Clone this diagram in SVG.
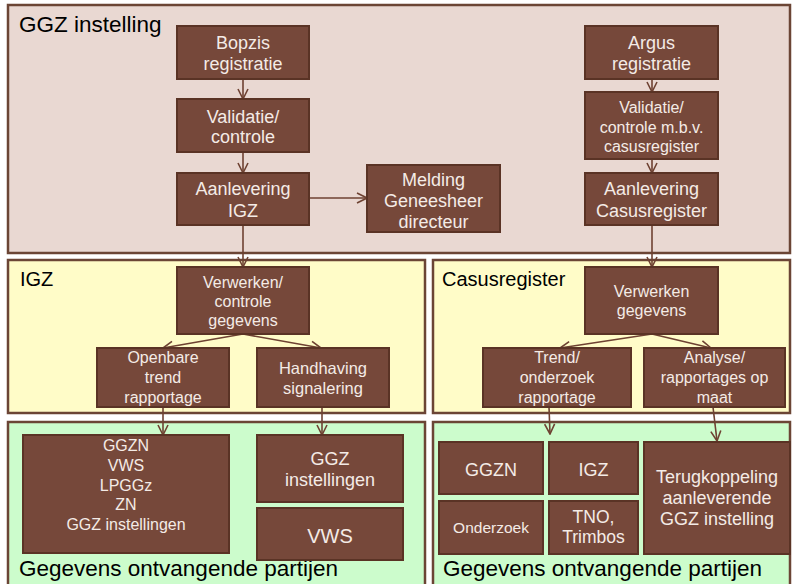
<svg xmlns="http://www.w3.org/2000/svg" width="792" height="584" viewBox="0 0 792 584">
<defs>
<style>
.panel{stroke:#6b4535;stroke-width:2.5}
.p1{fill:#e9d8d2}
.p2{fill:#fffcc8}
.p3{fill:#ccfccc}
.node rect{fill:#76483a;stroke:#5a3325;stroke-width:2}
.node text{fill:#f4ebe6;font-family:"Liberation Sans",Arial,sans-serif;text-anchor:middle}
.plabel{fill:#000;font-family:"Liberation Sans",Arial,sans-serif}
.conn{stroke:#6e4232;stroke-width:1.6;fill:none;marker-end:url(#ah)}
</style>
<marker id="ah" viewBox="0 0 12 12" refX="11" refY="6" markerWidth="12" markerHeight="12" markerUnits="userSpaceOnUse" orient="auto">
<path d="M1,1 L11,6 L1,11" fill="none" stroke="#6e4232" stroke-width="1.6"/>
</marker>
</defs>
<rect width="792" height="584" fill="#fff"/>
<g id="panels">
<rect class="panel p1" x="8" y="5" width="782" height="248"/>
<rect class="panel p2" x="8" y="260" width="417" height="153"/>
<rect class="panel p2" x="433" y="260" width="357" height="153"/>
<rect class="panel p3" x="8" y="422" width="417" height="170"/>
<rect class="panel p3" x="433" y="422" width="357" height="170"/>
<text class="plabel" x="19" y="32" font-size="22.5">GGZ instelling</text>
<text class="plabel" x="20" y="286" font-size="20">IGZ</text>
<text class="plabel" x="442" y="286" font-size="20">Casusregister</text>
<text class="plabel" x="19" y="576" font-size="22.5">Gegevens ontvangende partijen</text>
<text class="plabel" x="443" y="576" font-size="22.5">Gegevens ontvangende partijen</text>
</g>
<g id="connectors">
<line class="conn" x1="243" y1="79" x2="243" y2="99"/>
<line class="conn" x1="243" y1="152" x2="243" y2="173"/>
<line class="conn" x1="309" y1="198" x2="367" y2="198"/>
<line class="conn" x1="243" y1="225" x2="243" y2="267"/>
<line class="conn" x1="652" y1="79" x2="652" y2="92"/>
<line class="conn" x1="652" y1="159" x2="652" y2="173"/>
<line class="conn" x1="652" y1="225" x2="652" y2="267"/>
<line class="conn" x1="243" y1="334" x2="163" y2="348"/>
<line class="conn" x1="243" y1="334" x2="321" y2="348"/>
<line class="conn" x1="652" y1="334" x2="560" y2="348"/>
<line class="conn" x1="652" y1="334" x2="711" y2="348"/>
<line class="conn" x1="163" y1="407" x2="163" y2="435"/>
<line class="conn" x1="322" y1="407" x2="322" y2="435"/>
<line class="conn" x1="549" y1="407" x2="550" y2="434"/>
<line class="conn" x1="713" y1="407" x2="717" y2="441"/>
</g>
<g id="bopzis" class="node"><rect x="177" y="26" width="132" height="53"/><text font-size="18"><tspan x="243" y="49">Bopzis</tspan><tspan x="243" y="70">registratie</tspan></text></g>
<g id="validatie1" class="node"><rect x="177" y="99" width="132" height="53"/><text font-size="18"><tspan x="243" y="123">Validatie/</tspan><tspan x="243" y="143">controle</tspan></text></g>
<g id="aanlevering-igz" class="node"><rect x="177" y="173" width="132" height="52"/><text font-size="18"><tspan x="243" y="195">Aanlevering</tspan><tspan x="243" y="217">IGZ</tspan></text></g>
<g id="melding" class="node"><rect x="367" y="165" width="133" height="67"/><text font-size="18"><tspan x="433.5" y="186">Melding</tspan><tspan x="433.5" y="207">Geneesheer</tspan><tspan x="433.5" y="228">directeur</tspan></text></g>
<g id="argus" class="node"><rect x="585" y="26" width="133" height="53"/><text font-size="18"><tspan x="651.5" y="49">Argus</tspan><tspan x="651.5" y="70">registratie</tspan></text></g>
<g id="validatie2" class="node"><rect x="585" y="92" width="133" height="67"/><text font-size="16"><tspan x="651.5" y="113">Validatie/</tspan><tspan x="651.5" y="133">controle m.b.v.</tspan><tspan x="651.5" y="152">casusregister</tspan></text></g>
<g id="aanlevering-cas" class="node"><rect x="585" y="173" width="133" height="52"/><text font-size="18"><tspan x="651.5" y="195">Aanlevering</tspan><tspan x="651.5" y="217">Casusregister</tspan></text></g>
<g id="verwerken-igz" class="node"><rect x="177" y="267" width="132" height="67"/><text font-size="16"><tspan x="243" y="288">Verwerken/</tspan><tspan x="243" y="307">controle</tspan><tspan x="243" y="326">gegevens</tspan></text></g>
<g id="openbare" class="node"><rect x="97" y="348" width="132" height="59"/><text font-size="16"><tspan x="163" y="363">Openbare</tspan><tspan x="163" y="383">trend</tspan><tspan x="163" y="403">rapportage</tspan></text></g>
<g id="handhaving" class="node"><rect x="257" y="348" width="132" height="59"/><text font-size="16.5"><tspan x="323" y="374">Handhaving</tspan><tspan x="323" y="394">signalering</tspan></text></g>
<g id="verwerken-cas" class="node"><rect x="585" y="267" width="133" height="67"/><text font-size="16"><tspan x="651.5" y="297">Verwerken</tspan><tspan x="651.5" y="316">gegevens</tspan></text></g>
<g id="trend" class="node"><rect x="483" y="348" width="148" height="59"/><text font-size="16"><tspan x="557" y="363">Trend/</tspan><tspan x="557" y="383">onderzoek</tspan><tspan x="557" y="403">rapportage</tspan></text></g>
<g id="analyse" class="node"><rect x="644" y="348" width="141" height="59"/><text font-size="16"><tspan x="714.5" y="363">Analyse/</tspan><tspan x="714.5" y="383">rapportages  op</tspan><tspan x="714.5" y="403">maat</tspan></text></g>
<g id="ontvangers-igz" class="node"><rect x="23" y="435" width="206" height="118"/><text font-size="16"><tspan x="126" y="451">GGZN</tspan><tspan x="126" y="471">VWS</tspan><tspan x="126" y="491">LPGGz</tspan><tspan x="126" y="510">ZN</tspan><tspan x="126" y="530">GGZ instellingen</tspan></text></g>
<g id="ggz-instellingen" class="node"><rect x="257" y="435" width="146" height="67"/><text font-size="18"><tspan x="330" y="465">GGZ</tspan><tspan x="330" y="486">instellingen</tspan></text></g>
<g id="vws" class="node"><rect x="257" y="508" width="146" height="52"/><text font-size="20" x="330" y="543">VWS</text></g>
<g id="ggzn" class="node"><rect x="439" y="442" width="104" height="52"/><text font-size="18" x="491" y="476">GGZN</text></g>
<g id="igz" class="node"><rect x="549" y="442" width="89" height="52"/><text font-size="18" x="593.5" y="476">IGZ</text></g>
<g id="onderzoek" class="node"><rect x="439" y="501" width="104" height="53"/><text font-size="15.5" x="491" y="533">Onderzoek</text></g>
<g id="tno" class="node"><rect x="549" y="501" width="89" height="53"/><text font-size="17.5"><tspan x="593.5" y="523">TNO,</tspan><tspan x="593.5" y="543">Trimbos</tspan></text></g>
<g id="terugkoppeling" class="node"><rect x="644" y="442" width="146" height="112"/><text font-size="18"><tspan x="717" y="483">Terugkoppeling</tspan><tspan x="717" y="504">aanleverende</tspan><tspan x="717" y="525">GGZ instelling</tspan></text></g>
</svg>
